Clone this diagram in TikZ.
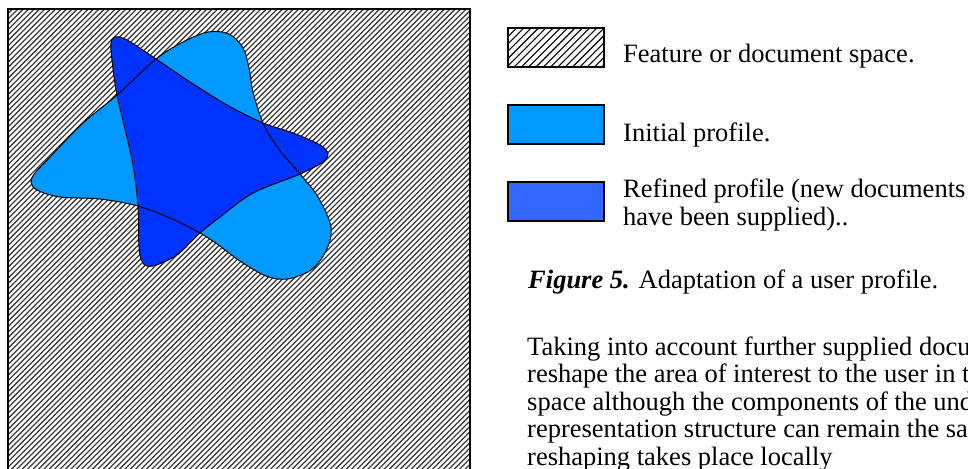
\documentclass[tikz,border=0pt]{standalone}
\usepackage{fontspec}
\setmainfont{Liberation Serif}
\definecolor{initblue}{RGB}{0,153,255}
\definecolor{refblue}{RGB}{0,51,255}
\definecolor{refkey}{RGB}{51,102,255}
\tikzset{
  blobline/.style={draw=black, line width=1pt},
  keybox/.style={draw=black, line width=2pt},
  hatchline/.style={draw=black!75, line width=1.3pt},
  keyhatch/.style={draw=black, line width=1.1pt},
  txt/.style={anchor=base west, inner sep=0pt, font=\fontsize{26.5pt}{27pt}\selectfont},
}
\begin{document}
\begin{tikzpicture}[x=1pt, y=-1pt]
\path[use as bounding box, clip] (0,0) rectangle (968,468);
\fill[white] (0,0) rectangle (968,468);

% feature space: hatched square
\begin{scope}
  \clip (8,9) rectangle (470,480);
  \foreach \c in {0,5.4,...,960} {
    \draw[hatchline] (\c,0) -- (\c-500,500);
  }
\end{scope}
\draw[line width=1.5pt] (8,9) rectangle (470,480);

% initial profile
\def\initpath{plot[smooth cycle, tension=0.55] coordinates {
  (156,59) (183,42) (208,32) (229,34) (243,48) (249,68) (253,92) (263,123)
  (278,148) (300,174) (318,197) (331,227) (326,251) (311,270) (287,279)
  (266,276) (240,261) (217,244) (200,233) (170,218) (138,206) (100,199)
  (60,197) (37,190) (31,182) (35,173) (50,157) (83,123) (117,95)}}
% refined profile
\def\refpath{plot[smooth cycle, tension=0.55] coordinates {
  (115,37) (127,40) (156,59) (187,80) (227,105) (263,123) (293,133)
  (320,145) (328,154) (323,162) (300,174) (253,193) (220,217) (200,233)
  (177,255) (153,266) (143,263) (139,247) (138,206) (132,160) (117,95)
  (112,60) (111,43)}}
\fill[initblue] \initpath;
\fill[refblue] \refpath;
\draw[blobline] \initpath;
\draw[blobline] \refpath;

% legend
\begin{scope}
  \clip (508,28) rectangle (604,67);
  \foreach \c in {530,537.3,...,690} {
    \draw[keyhatch] (\c,0) -- (\c-100,100);
  }
\end{scope}
\draw[keybox] (508,28) rectangle (604,67);
\draw[keybox, fill=initblue] (508,105) rectangle (604,144);
\draw[keybox, fill=refkey] (508,182) rectangle (604,221);

\node[txt] (k1) at (623,63) {Feature or document space.};
\node[txt] (k2) at (623,141) {Initial profile.};
\node[txt] (k3) at (623,197) {Refined profile (new documents};
\node[txt] (k3b) at (623,225) {have been supplied)..};

\node[txt] (cap) at (528,288) {\textbf{\textit{Figure 5.}} Adaptation of a user profile.};

\node[txt] (p1) at (527,355) {Taking into account further supplied docu};
\node[txt] (p2) at (527,382.5) {reshape the area of interest to the user in t};
\node[txt] (p3) at (527,410) {space although the components of the und};
\node[txt] (p4) at (527,437.5) {representation structure can remain the sa};
\node[txt] (p5) at (527,465) {reshaping takes place locally};
\end{tikzpicture}
\end{document}
